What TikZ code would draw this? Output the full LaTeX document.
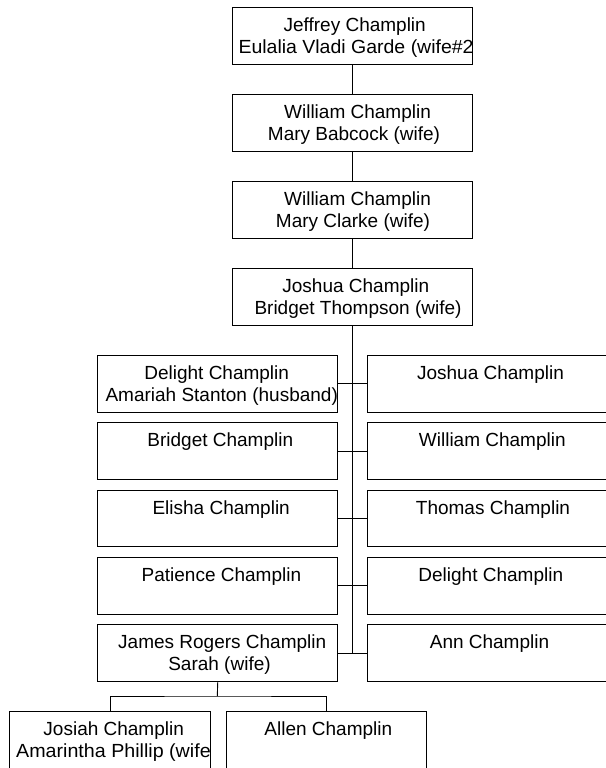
\documentclass[tikz,border=0pt]{standalone}
\usepackage{fontspec}
\setmainfont{Liberation Sans}
\begin{document}
\begin{tikzpicture}[x=1pt,y=-1pt,
  box/.style={draw, line width=0.9pt, minimum width=240pt, minimum height=56.7pt, inner sep=0pt, anchor=north west},
  sbox/.style={box, minimum width=200.4pt},
  txt/.style={font=\fontsize{19}{22}\selectfont, inner sep=0pt, anchor=base},
  txtw/.style={txt, anchor=base west},
  link/.style={line width=0.9pt}]
\useasboundingbox (0,0) rectangle (605,768);
% ancestors
\node[box] (t1) at (232.3,7.3) {};
\node[box] (t2) at (232.3,94.3) {};
\node[box] (t3) at (232.3,181.3) {};
\node[box] (t4) at (232.3,268.3) {};
\node[txt] (t1a) at (354.7,31.8) {Jeffrey Champlin};
\begin{scope}
\clip (t1.south west) rectangle (t1.north east);
\node[txtw] (t1b) at (238.3,53.8) {\scalebox{1.026}[1]{Eulalia Vladi Garde (wife\#2}};
\end{scope}
\node[txt] (t2a) at (357.5,118.8) {William Champlin};
\node[txt] (t2b) at (354,140.8) {Mary Babcock (wife)};
\node[txt] (t3a) at (357.5,205.8) {William Champlin};
\node[txt] (t3b) at (353,227.8) {Mary Clarke (wife)};
\node[txt] (t4a) at (355.8,292.8) {Joshua Champlin};
\node[txt] (t4b) at (358,314.8) {Bridget Thompson (wife)};
\draw[link] (t1.south) -- (t2.north);
\draw[link] (t2.south) -- (t3.north);
\draw[link] (t3.south) -- (t4.north);
% children
\node[box] (l1) at (97.3,355) {};
\node[box] (l2) at (97.3,422.3) {};
\node[box] (l3) at (97.3,489.6) {};
\node[box] (l4) at (97.3,556.9) {};
\node[box] (l5) at (97.3,624.2) {};
\node[box] (r1) at (367.3,355) {};
\node[box] (r2) at (367.3,422.3) {};
\node[box] (r3) at (367.3,489.6) {};
\node[box] (r4) at (367.3,556.9) {};
\node[box] (r5) at (367.3,624.2) {};
\node[txt] (l1a) at (216.7,379.5) {Delight Champlin};
\node[txt] (l1b) at (221.7,401.5) {Amariah Stanton (husband)};
\node[txt] (l2a) at (220.3,446.8) {Bridget Champlin};
\node[txt] (l3a) at (221.2,514.1) {Elisha Champlin};
\node[txt] (l4a) at (221.4,581.4) {Patience Champlin};
\node[txt] (l5a) at (222.2,648.7) {James Rogers Champlin};
\node[txt] (l5b) at (219.5,670.7) {Sarah (wife)};
\node[txt] (r1a) at (490.5,379.5) {Joshua Champlin};
\node[txt] (r2a) at (492.3,446.8) {William Champlin};
\node[txt] (r3a) at (493,514.1) {Thomas Champlin};
\node[txt] (r4a) at (490.8,581.4) {Delight Champlin};
\node[txt] (r5a) at (489.5,648.7) {Ann Champlin};
\coordinate (trunkend) at (t4.south |- l5.east);
\draw[link] (t4.south) -- (trunkend);
\foreach \i in {1,...,5}{\draw[link] (l\i.east) -- (r\i.west);}
% grandchildren
\node[sbox] (g1) at (9.3,711) {};
\node[sbox] (g2) at (225.7,711) {};
\node[txt] (g1a) at (113.7,735.5) {Josiah Champlin};
\begin{scope}
\clip (g1.south west) rectangle (g1.north east);
\node[txtw] (g1b) at (16,757.5) {\scalebox{1.035}[1]{Amarintha Phillip (wife}};
\end{scope}
\node[txt] (g2a) at (328.3,735.5) {Allen Champlin};
\coordinate (fork) at (217.3,696);
\draw[link] (l5.south) -- (fork);
\draw[link] (g1.north) |- (fork) -| (g2.north);
\end{tikzpicture}
\end{document}
